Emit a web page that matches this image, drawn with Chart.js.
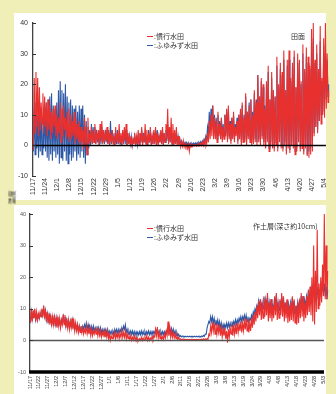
<!DOCTYPE html>
<html>
<head>
<meta charset="utf-8">
<script src="https://cdn.jsdelivr.net/npm/chart.js@4.4.0/dist/chart.umd.min.js"></script>
<style>
  html, body { margin: 0; padding: 0; }
  body { width: 336px; height: 394px; background: #f0efb7; position: relative; overflow: hidden;
         font-family: "Noto Sans CJK JP", sans-serif; }
  .panel { position: absolute; background: #fff; }
  .cv { position: absolute; left: 0; }
  .txt { position: absolute; font-size: 7px; color: #333; white-space: nowrap; line-height: 7px; }
  .mk { position: absolute; width: 6px; height: 1.5px; }
</style>
</head>
<body>
<div class="panel" style="left:14px;top:13px;width:312px;height:187px"></div>
<div class="panel" style="left:14px;top:205px;width:312px;height:189px"></div>

<div class="cv" style="top:13px"><canvas id="topChart" width="336" height="187"></canvas></div>
<div class="cv" style="top:205px"><canvas id="bottomChart" width="336" height="189"></canvas></div>

<!-- legends / titles -->
<div class="mk" style="left:147px;top:35.5px;background:#e8302f"></div>
<div class="txt" style="left:154px;top:32.5px">:慣行水田</div>
<div class="mk" style="left:147px;top:44.5px;background:#2c58a6"></div>
<div class="txt" style="left:154px;top:41.5px">:ふゆみず水田</div>
<div class="txt" style="left:291px;top:33px">田面</div>

<div class="mk" style="left:147px;top:227.5px;background:#e8302f"></div>
<div class="txt" style="left:154px;top:224.5px">:慣行水田</div>
<div class="mk" style="left:147px;top:236.5px;background:#2c58a6"></div>
<div class="txt" style="left:154px;top:233.5px">:ふゆみず水田</div>
<div class="txt" style="left:253px;top:222.5px">作土層(深さ約10cm)</div>

<div class="txt" style="left:5px;top:193.5px;width:14px;transform:rotate(-90deg)">温度</div>

<script>
// day 0 = 11/17, one min and one max per day

// 田面 (top)
const topLabels = ['11/17','11/24','12/1','12/8','12/15','12/22','12/29','1/5','1/12','1/19','1/26',
  '2/2','2/9','2/16','2/23','3/2','3/9','3/16','3/23','3/30','4/6','4/13','4/20','4/27','5/4'];

const topRedMax = [
  22,24,22,19,14,17,16, 14,15,13,11,12,13,10, 9,14,12,13,9,11,12, 10,8,11,9,7,8,6,
  5,9,6,9,4,6,5, 7,4,5,7,8,5,4, 6,5,4,5,3,6,4, 7,4,5,6,7,4,3,
  3,2,4,3,5,4,6, 3,7,5,4,6,3,5, 6,4,3,5,6,4,7, 12,6,9,7,5,6,3,
  2,1,1.5,0.5,0.3,0.5,0.2, 0.2,0.3,0.2,0.4,0.5,0.8,1, 1.5,2,4,8,10,13,9, 8,11,7,9,6,10,12,
  13,7,9,11,6,8,10, 12,14,9,17,11,13,15, 10,18,14,23,16,22,20, 12,21,26,15,24,18,16,
  29,20,27,24,31,18,28, 31,22,27,31,19,30,28, 21,33,25,32,29,26,38, 40,28,33,25,39,22,35,
  40,30,18];
const topRedMin = [
  -1.5,4,6,3,5,7,4, 6,3,5,2,4,6,3, 2,4,1,3,5,2,3, 1,2,3,0.5,2,1,0,
  1,-1.5,0,-3,0.5,1,0.5, 1,0.5,2,0,1,0.5,1, 1.5,0.5,0,1,0.5,0,1, 0.5,1,0,0.5,1.5,0,0.5,
  0,0,0.5,0,0.5,0,1, 0,1,0.5,0,1,0,0.5, 0.5,0,0,1,0.5,0,1, 2,0.5,1,0.5,0,0.5,0,
  0,-0.5,-0.3,-0.5,-0.5,-1,-2, -0.5,-0.3,-0.2,-0.3,-0.2,0,0, 0,0.2,0.5,1,2,3,2, 2,1,3,2,1,2,3,
  1,2,0.5,2,1,3,0.5, 2,0,1,1,0,2,1, 0,0.5,1,0,1,0,2, 0,-1,1,-2,0,-1,-2,
  0,-2,1,-1,-2,0,-3, -1,-2.5,0,-1,-3,-2,1, -2,-1,-3,-1,-3.5,-4,-3, -2,3,6,4,8,7,10,
  9,12,14];
const topBlueMax = [
  12,14,10,13,11,9,12, 14,15,16,17,13,12,14, 18,21,18,17,20,16,14, 15,13,12,13,11,13,12,
  13,10,8,6,5,7,6, 6,5,4,5,6,4,5, 5,4,8,5,4,3,5, 4,3,4,5,5,4,3,
  3,2,3,2,3,4,5, 4,4,3,5,4,3,4, 5,5,3,4,5,4,5, 7,5,6,4,3,4,3,
  2,1.5,1.2,1,1,0.8,0.8, 0.7,0.8,0.8,0.9,1,1.2,1.5, 2,3,6,11,12,13,10, 9,10,8,9,7,10,11,
  12,8,9,10,7,9,10, 11,13,10,16,11,14,15, 11,17,15,23,16,21,19, 13,20,24,15,22,18,16,
  26,19,25,23,28,18,26, 28,21,26,29,19,27,27, 20,30,24,29,27,25,34, 35,27,30,24,34,21,30,
  33,28,20];
const topBlueMin = [
  -2,-3,-1,-4,-2,-3,-1, -2,-4,-5,-3,-5,-2,-4, -3,-6,-4,-5,-2,-5,-6, -3,-5,-4,-2,-5,-3,-4,
  -2,-4,-6,-3,-1,0,0.5, 1,0.5,1,0,0.5,1,0.5, 1,0.5,0,0.5,1,0,0.5, 0.5,0.5,0,1,0.5,0,0.5,
  0.5,0,0.5,0.5,0,0.5,1, 0.5,1,0.5,0,1,0.5,0.5, 1,0.5,0.5,1,0.5,0.5,1, 1.5,1,1,0.5,0.5,0.5,0.5,
  0.5,0.3,0.3,0.3,0.2,0.2,0.2, 0.2,0.2,0.2,0.3,0.3,0.5,0.6, 0.8,1,2,4,5,6,4, 3,2,4,3,2,3,4,
  2,3,1.5,3,2,4,1.5, 3,1,2,2,1,3,2, 1,1.5,2,1,2,1,3, 1,0,2,-1,1,0,-1,
  1,-1,2,0,-1,1,-2, 0,-1.5,1,0,-2,-1,2, -1,0,-2,0,-3,-2,-1, 0,4,6,5,8,10,11,
  13,15,16];

// 作土層 (bottom)
const bottomLabels = ['11/17','11/22','11/27','12/2','12/7','12/12','12/17','12/22','12/27','1/1','1/6',
  '1/11','1/17','1/22','1/27','2/1','2/6','2/11','2/16','2/21','2/26','3/3','3/8','3/13','3/19','3/24',
  '3/29','4/3','4/8','4/13','4/18','4/23','4/28','5/3'];

const botRedMax = [
  10,9.5,10,9,8.5,9,10, 11,10,9,8.5,8,7.5,8, 7,7.5,7,6.5,8.3,8,7, 6.5,6,7,6,5.5,5,4.5,
  4.5,4,3.5,4.5,3.5,4,3.5, 3,3.5,4,3.5,3,2.5,3, 2.5,3,2,1.5,2,2.5,2, 2.5,2,3,2.5,3,2,1.5,
  1.5,1,1.5,1,0.5,0.5,1, 0.8,1,1.5,1,0.8,1.2,1.5, 3.5,4.2,2.5,1.5,1.2,2,3, 6,4,3,2.5,2,1.5,1,
  0.5,0.4,0.4,0.3,0.3,0.3,0.3, 0.3,0.3,0.3,0.3,0.3,0.4,0.5, 0.5,0.6,2,4.5,6,5.5,5, 4.5,5,4,3.5,4,3,3.5,
  4,4.5,5,4.5,5.5,5,6, 5.5,6,7,6.5,5.5,7,8, 9,11,12.5,13,12,14,13, 15,12,13,11,14,15,12,
  13,15,14,12,13,11,12, 14,13,11,12,13,15,14, 12,14,16,17,20,30,22, 35,18,20,24,40,30,22];
const botRedMin = [
  5.5,6,7,6,6.5,7,7.5, 8,7,6,5.5,5,4.5,5, 4.5,4,4.5,4,5,5,4, 4,3.5,4,3.5,3,3,2.5,
  2.5,2.5,2,2.5,2,2,1.5, 1.5,2,2,1.5,1.5,1,1.5, 1,1,0.5,0,0.5,1,0.5, 1,0.5,1,1,1,0.5,0.5,
  0.3,0,0.2,0,0,-0.2,0, 0,0,0.2,0,0,0.2,0.3, 1,1.5,0.8,0.5,0.3,0.3,0.8, 1.5,1.5,1,1,0.8,0.5,0.3,
  0.2,0.2,0.2,0.2,0.2,0.2,0.2, 0.2,0.2,0.2,0.2,0.2,0.2,0.2, 0.2,0.2,0.3,1.5,2.5,3,2, 2,2.5,1.5,1,1.5,0.5,-0.7,
  1,2,1.5,2,2,2.5,3, 2.5,3,3.5,3,2.5,3,4, 5,6,7,8,6.5,7,7.5, 8,6,7,6,7,8,6.5,
  7,8,7.5,6,7,5.5,6, 6.5,6,5.5,5,5.5,7,7.5, 6,7,8,9,8,6,5, 9,10,11,12,14,13,13];
const botBlueMax = [
  9,8.5,9,8.5,8,8.5,9, 10,9.5,8.5,8,7.5,7,7.5, 7,7,6.5,6.5,7.5,7.5,6.5, 6,6,6.5,5.5,5,5,4.5,
  4.5,4.5,5,5.5,5,4.5,4.5, 4.5,4,4.5,4,4,3.5,3.5, 3.5,3.5,3,3,3,3.5,3.5, 3.5,3.5,4,4.5,5,3.5,3,
  3,3,2.8,2.7,2.6,2.8,3, 2.8,2.8,2.8,3,2.8,2.8,2.8, 3.5,3.5,3,2.8,2.8,2.8,3, 3.8,4,3.8,3.5,3,2.5,2,
  1.5,1.4,1.3,1.3,1.3,1.3,1.3, 1.3,1.3,1.3,1.3,1.3,1.4,1.6, 2,4,6,7.5,7.5,7,6.5, 6.5,6,5.5,5,5,5.5,5.5,
  5.5,6,6,6.5,6.5,7,7.5, 7.5,8,8,7.5,7,8,9, 10,11,12.5,13,12,13.5,13, 14,12,13,11,13.5,14.5,12,
  12.5,14,13.5,12,12.5,11,12, 13.5,12.5,11,12,12.5,14,14, 12.5,14,15,16,17,18,16, 17,16,17,18,18,17,16];
const botBlueMin = [
  6,6.5,7,6.5,6.5,7,7.5, 8,7.5,6.5,6,5.5,5,5.5, 5,4.5,5,4.5,5.5,5.5,4.5, 4.5,4,4.5,4,3.5,3.5,3,
  3,3,3.5,4,3.5,3,3, 3,2.8,3,2.5,2.5,2.3,2.3, 2.3,2.2,2,2,2,2.2,2.3, 2.3,2.3,2.5,3,3.5,2.5,2,
  2,1.8,1.7,1.7,1.6,1.7,1.8, 1.8,1.8,1.8,2,1.8,1.8,1.8, 2.2,2.5,2,1.8,1.8,1.8,2, 2.5,2.8,2.5,2.2,2,1.6,1.4,
  1.2,1.1,1.1,1.1,1.1,1.1,1.1, 1.1,1.1,1.1,1.1,1.1,1.1,1.2, 1.3,2,4,5.5,6,5.5,5, 5,4.5,4,3.5,3.5,4,4,
  4,4.5,4.5,5,5,5.5,6, 6,6.5,6.5,6,5.5,6.5,7, 8,9,10,10.5,9.5,10,10, 10.5,9,9.5,8.5,10,11,9,
  9.5,10.5,10,9,9,8,9, 10,9.5,8.5,9,9.5,11,11, 10,11,12,13,13.5,14,13, 14,13,14,15,15,14,13];

const RED = '#e8302f';
const BLUE = '#2c58a6';

function dayPoints(mins, maxs) {
  const pts = [];
  for (let d = 0; d < mins.length; d++) {
    pts.push({ x: d + 0.2, y: mins[d] });
    pts.push({ x: d + 0.7, y: maxs[d] });
  }
  return pts;
}

// zero line on top of the data, small y tick marks, optional heavy base line
const axisExtras = {
  id: 'axisExtras',
  afterDatasetsDraw(chart, args, opts) {
    const ctx = chart.ctx;
    const xs = chart.scales.x, ys = chart.scales.y;
    const left = chart.chartArea.left;
    ctx.save();
    const y0 = ys.getPixelForValue(0);
    ctx.strokeStyle = opts.zeroColor;
    ctx.lineWidth = opts.zeroWidth;
    ctx.beginPath();
    ctx.moveTo(left, y0);
    ctx.lineTo(xs.getPixelForValue(opts.lineEnd), y0);
    ctx.stroke();
    ctx.strokeStyle = '#333';
    ctx.lineWidth = 1;
    ys.ticks.forEach(t => {
      const py = Math.round(ys.getPixelForValue(t.value)) + 0.5;
      ctx.beginPath();
      ctx.moveTo(left - 1, py);
      ctx.lineTo(left + 3, py);
      ctx.stroke();
    });
    if (opts.baseBar) {
      const yb = ys.getPixelForValue(ys.min);
      ctx.strokeStyle = '#000';
      ctx.lineWidth = 3.5;
      ctx.beginPath();
      ctx.moveTo(left - 1, yb);
      ctx.lineTo(xs.getPixelForValue(opts.lineEnd), yb);
      ctx.stroke();
    }
    ctx.restore();
  }
};

function makeChart(id, o) {
  return new Chart(document.getElementById(id), {
    type: 'line',
    data: {
      datasets: [
        { label: '慣行水田', data: dayPoints(o.redMin, o.redMax), borderColor: RED, backgroundColor: RED,
          borderWidth: 1.1, pointRadius: 0, tension: 0 },
        { label: 'ふゆみず水田', data: dayPoints(o.blueMin, o.blueMax), borderColor: BLUE, backgroundColor: BLUE,
          borderWidth: 1.1, pointRadius: 0, tension: 0 }
      ]
    },
    options: {
      responsive: false,
      animation: false,
      events: [],
      layout: { padding: { left: 0, right: o.padRight, top: o.padTop, bottom: 0 } },
      plugins: {
        legend: { display: false },
        tooltip: { enabled: false },
        axisExtras: { zeroColor: o.zeroColor, zeroWidth: 1.5, lineEnd: o.lineEnd, baseBar: o.baseBar }
      },
      scales: {
        x: {
          type: 'linear',
          min: 0,
          max: o.xMax,
          grid: { display: false, drawTicks: false },
          border: { display: false },
          afterBuildTicks: s => { s.ticks = o.labels.map((_, i) => ({ value: i * o.step })); },
          afterFit: s => { s.height = o.xAxisHeight; },
          ticks: {
            autoSkip: false,
            maxRotation: 90,
            minRotation: 90,
            padding: o.xPad,
            color: '#333',
            font: { size: o.xFont, family: 'Liberation Sans' },
            callback: v => o.labels[Math.round(v / o.step)]
          }
        },
        y: {
          min: -10,
          max: 40,
          grid: { display: false, drawTicks: false },
          border: { display: true, color: '#444', width: 1.3 },
          afterFit: s => { s.width = o.yAxisWidth; },
          ticks: {
            stepSize: 10,
            padding: o.yPad,
            color: o.yColor,
            font: { size: o.yFont, family: 'Liberation Sans' }
          }
        }
      }
    },
    plugins: [axisExtras]
  });
}

makeChart('topChart', {
  redMin: topRedMin, redMax: topRedMax, blueMin: topBlueMin, blueMax: topBlueMax,
  labels: topLabels, step: 7, xMax: 171, padRight: 6.6, padTop: 10, xAxisHeight: 24,
  yAxisWidth: 33, xPad: 2, xFont: 7, yPad: 5, yFont: 7, yColor: '#333',
  zeroColor: '#000', lineEnd: 169, baseBar: false
});

makeChart('bottomChart', {
  redMin: botRedMin, redMax: botRedMax, blueMin: botBlueMin, blueMax: botBlueMax,
  labels: bottomLabels, step: 5, xMax: 168, padRight: 7.6, padTop: 9, xAxisHeight: 22,
  yAxisWidth: 30, xPad: 4, xFont: 5.5, yPad: 4, yFont: 5.5, yColor: '#555',
  zeroColor: '#555', lineEnd: 165.5, baseBar: true
});
</script>
</body>
</html>
